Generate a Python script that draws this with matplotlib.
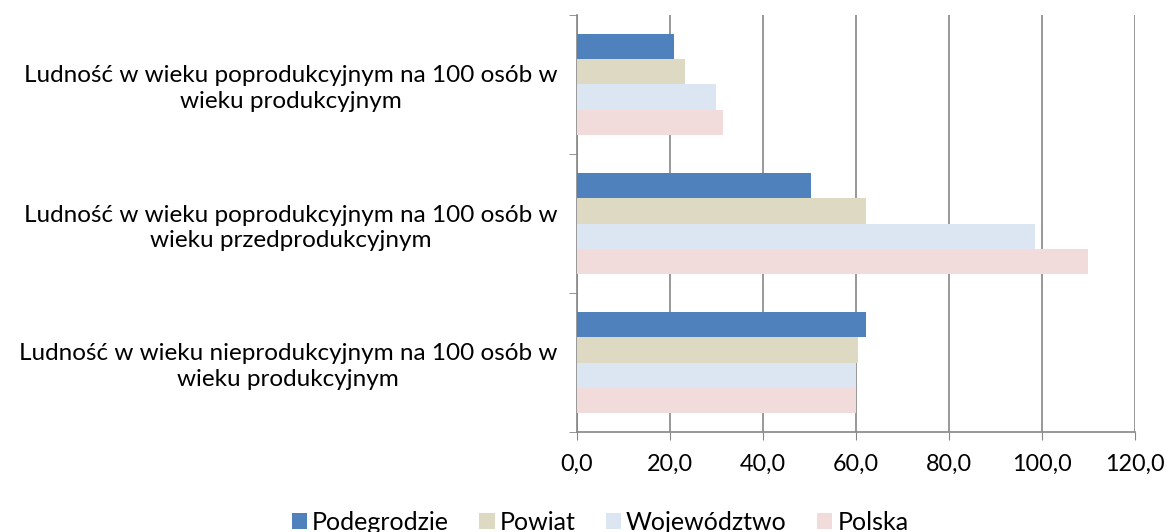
import matplotlib
matplotlib.use("Agg")
import matplotlib.pyplot as plt
import numpy as np

plt.rcParams['font.family'] = ['Lato', 'DejaVu Sans']

categories = [
    "Ludność w wieku poprodukcyjnym na 100 osób w\nwieku produkcyjnym",
    "Ludność w wieku poprodukcyjnym na 100 osób w\nwieku przedprodukcyjnym",
    "Ludność w wieku nieprodukcyjnym na 100 osób w\nwieku produkcyjnym",
]
series_names = ["Podegrodzie", "Powiat", "Województwo", "Polska"]
podegrodzie = [20.9, 50.4, 62.2]
powiat = [23.2, 62.2, 60.5]
wojewodztwo = [29.8, 98.6, 60.1]
polska = [31.4, 109.8, 60.0]
xticks = [0, 20, 40, 60, 80, 100, 120]
xtick_labels = ["0,0", "20,0", "40,0", "60,0", "80,0", "100,0", "120,0"]

colors = ["#4f81bd", "#ddd9c3", "#dce6f2", "#f2dcdb"]
values = [podegrodzie, powiat, wojewodztwo, polska]

fig = plt.figure(figsize=(11.68, 5.32), dpi=100)
ax = fig.add_axes([577/1168, 1 - 432/532, (1135-577)/1168, (432-15)/532])

n = len(categories)
ypos = np.arange(n)[::-1].astype(float)
bh = 0.181
for i, (vals, c, name) in enumerate(zip(values, colors, series_names)):
    offs = (1.5 - i) * bh
    ax.barh(ypos + offs, vals, height=bh, color=c, label=name, edgecolor='none', zorder=3)

ax.set_ylim(-0.5, n - 0.5)
ax.set_xlim(0, 120)
ax.set_xticks(xticks)
ax.set_xticklabels(xtick_labels, fontsize=16.8)
ax.set_yticks(ypos)
ax.set_yticklabels(categories, fontsize=17.5, multialignment='center', linespacing=1.25)
ax.set_yticks([-0.5, 0.5, 1.5, 2.5], minor=True)
ax.tick_params(axis='y', which='major', length=0, pad=14)
ax.tick_params(axis='y', which='minor', length=6, color='#868686', direction='out')
ax.tick_params(axis='x', length=6, color='#868686', direction='out', pad=10)

ax.grid(axis='x', color='#868686', linewidth=1.2, zorder=0)
for s in ['top', 'right']:
    ax.spines[s].set_visible(False)
for s in ['left', 'bottom']:
    ax.spines[s].set_color('#868686')
    ax.spines[s].set_linewidth(1.2)

fig.legend(loc='lower center', bbox_to_anchor=(600/1168, -0.046), ncol=4, frameon=False,
           fontsize=18, handlelength=0.62, handleheight=0.62, handletextpad=0.2,
           columnspacing=1.2)

fig.savefig("out.png", dpi=100)
